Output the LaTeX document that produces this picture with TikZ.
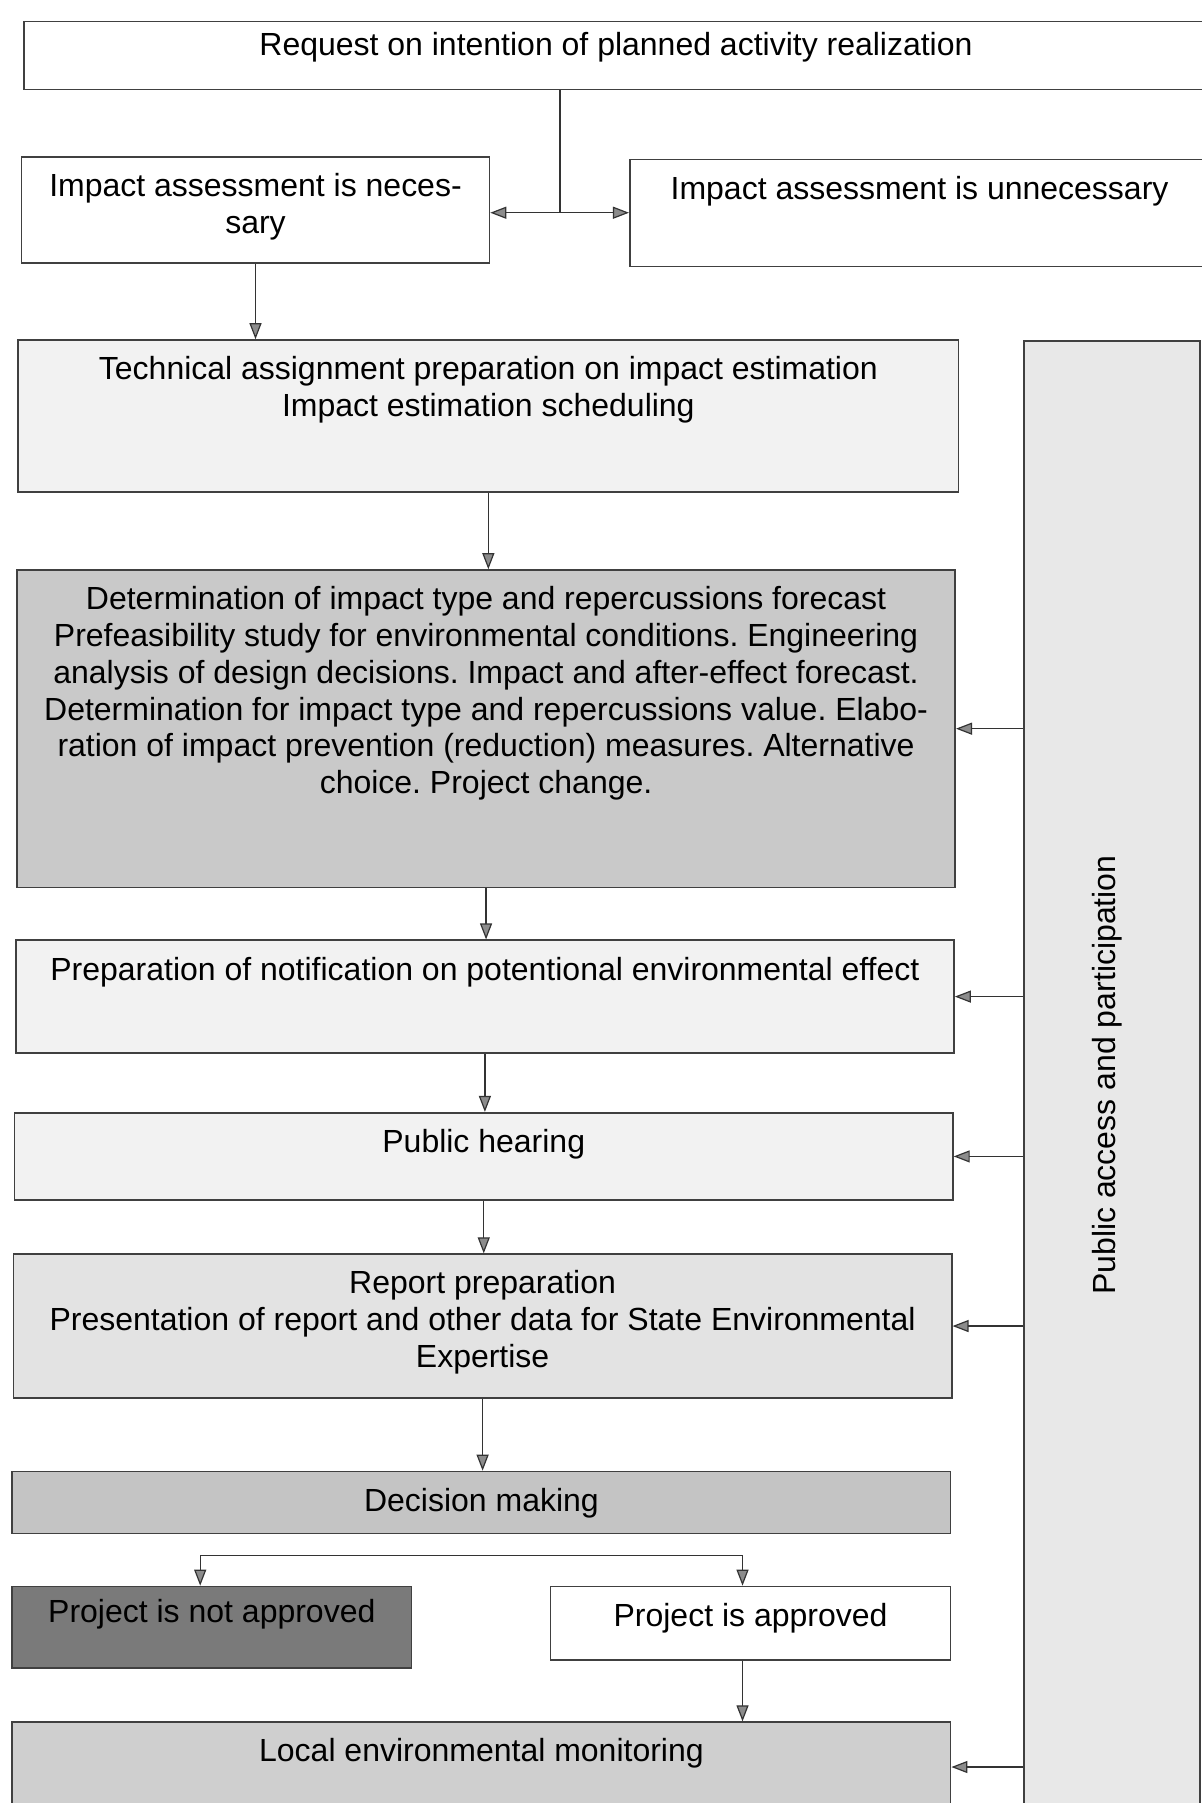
\documentclass[tikz,border=0pt]{standalone}
\usepackage{fontspec}
\setmainfont{Liberation Sans}
\usetikzlibrary{arrows.meta}
\frenchspacing

\newlength\px
\setlength\px{0.5751pt}

\tikzset{
	stage/.style={draw=black!75, line width=0.8pt, anchor=north west, inner sep=0pt},
	caption/.style={anchor=north, align=center, inner sep=0pt, yshift=-8.5pt, font=\fontsize{16}{18.4}\selectfont},
	flow/.style={draw=black!80, line width=0.6pt, -{Triangle[length=8pt, width=6pt, fill=black!45]}},
}

\begin{document}
\begin{tikzpicture}[x=0.5751pt, y=-0.5751pt]
	\useasboundingbox (0,0) rectangle (1045,1568);
	
	% boxes
	\node[stage, fill=white, minimum width=1030\px, minimum height=59\px,
		label={[caption, yshift=3pt]north:{Request on intention of planned activity realization}}] (req) at (20,18) {};
	\node[stage, fill=white, minimum width=407\px, minimum height=92\px,
		label={[caption]north:{Impact assessment is neces-\\sary}}] (nec) at (18,136) {};
	\node[stage, fill=white, minimum width=504\px, minimum height=93\px,
		label={[caption]north:{Impact assessment is unnecessary}}] (unn) at (547,138) {};
	\node[stage, fill=black!5, minimum width=818\px, minimum height=132\px,
		label={[caption]north:{Technical assignment preparation on impact estimation\\Impact estimation scheduling}}] (tech) at (15,295) {};
	\node[stage, fill=black!21, minimum width=816\px, minimum height=276\px,
		label={[caption]north:{Determination of impact type and repercussions forecast\\
			Prefeasibility study for environmental conditions. Engineering\\
			analysis of design decisions. Impact and after-effect forecast.\\
			Determination for impact type and repercussions value. Elabo-\\
			ration of impact prevention (reduction) measures. Alternative\\
			choice. Project change.}}] (det) at (14,495) {};
	\node[stage, fill=black!5, minimum width=816\px, minimum height=98\px,
		label={[caption]north:{Preparation of notification on potentional environmental effect}}] (notif) at (13,817) {};
	\node[stage, fill=black!5, minimum width=816\px, minimum height=76\px,
		label={[caption]north:{Public hearing}}] (hear) at (12,967) {};
	\node[stage, fill=black!11, minimum width=816\px, minimum height=125\px,
		label={[caption]north:{Report preparation\\Presentation of report and other data for State Environmental\\Expertise}}] (rep) at (11,1090) {};
	\node[stage, fill=black!23, minimum width=816\px, minimum height=54\px,
		label={[caption]north:{Decision making}}] (dec) at (10,1279) {};
	\node[stage, fill=black!52, minimum width=347\px, minimum height=71\px,
		label={[caption, yshift=2pt]north:{Project is not approved}}] (notok) at (10,1379) {};
	\node[stage, fill=white, minimum width=348\px, minimum height=64\px,
		label={[caption]north:{Project is approved}}] (ok) at (478,1379) {};
	\node[stage, fill=black!19, minimum width=816\px, minimum height=78\px,
		label={[caption]north:{Local environmental monitoring}}] (local) at (10,1497) {};
	
	% public access panel
	\node[stage, fill=black!9, minimum width=153\px, minimum height=1300\px] (panel) at (890,296) {};
	\node[rotate=90, inner sep=0pt, font=\fontsize{16}{18.4}\selectfont] (pub) at (963,935) {Public access and participation};
	
	% connectors
	\coordinate (split) at (487,185);
	\draw[draw=black!80, line width=0.6pt] (req.south -| split) -- (split);
	\draw[flow] (split) -- (nec.east |- split);
	\draw[flow] (split) -- (unn.west |- split);
	\draw[flow] (nec.south) -- (nec.south |- tech.north);
	\draw[flow] (tech.south) -- (tech.south |- det.north);
	\draw[flow] (det.south) -- (det.south |- notif.north);
	\draw[flow] (notif.south) -- (notif.south |- hear.north);
	\draw[flow] (hear.south) -- (hear.south |- rep.north);
	\draw[flow] (rep.south) -- (rep.south |- dec.north);
	
	\coordinate (fork) at (409,1353);
	\draw[flow] (fork) -| ([xshift=-5.8pt]notok.north);
	\draw[flow] (fork) -| ([xshift=-4pt]ok.north);
	\draw[flow] ([xshift=-4pt]ok.south) -- ([xshift=-4pt]ok.south |- local.north);
	
	\foreach \target in {det, notif, hear, rep, local}
		\draw[flow] (panel.west |- \target.east) -- (\target.east);
	
\end{tikzpicture}
\end{document}
